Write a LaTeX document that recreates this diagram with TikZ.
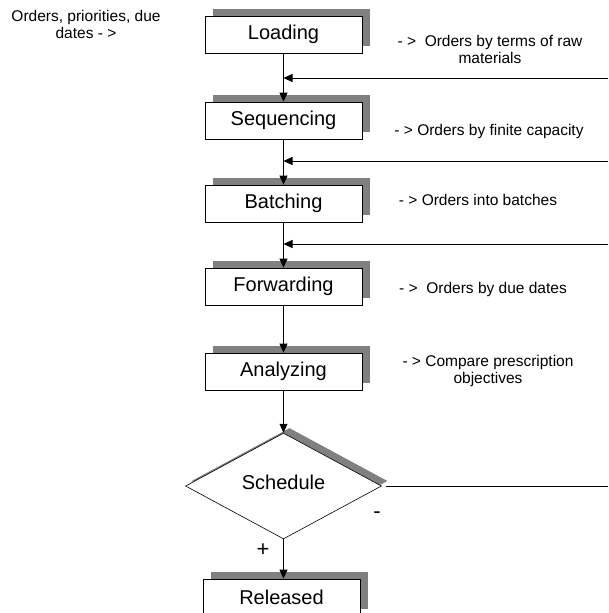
\documentclass[tikz,border=0pt]{standalone}
\usepackage{fontspec}
\setmainfont{Liberation Sans}
\usetikzlibrary{arrows.meta,shapes.geometric,shadows}

\definecolor{shadowgray}{RGB}{128,128,128}

\begin{document}
\begin{tikzpicture}[x=1pt,y=-1pt,
  boxshadow/.style={drop shadow={shadow xshift=8pt, shadow yshift=7pt,
      shadow scale=1, fill=shadowgray, opacity=1}},
  stage/.style={draw=black, line width=0.8pt, fill=white,
      minimum width=157pt, minimum height=37pt, inner sep=0pt,
      font=\fontsize{20}{24}\selectfont, boxshadow},
  decision/.style={diamond, draw=black, line width=0.6pt, fill=white,
      minimum width=196pt, minimum height=95pt, inner sep=0pt,
      font=\fontsize{20}{24}\selectfont,
      drop shadow={shadow xshift=6pt, shadow yshift=5pt,
      shadow scale=1, fill=shadowgray, opacity=1}},
  note/.style={font=\fontsize{15.5}{16.5}\selectfont, align=center, inner sep=0pt},
  sign/.style={font=\fontsize{22}{22}\selectfont, inner sep=0pt},
  flow/.style={line width=0.8pt, -{Triangle[width=8pt,length=9pt]}},
  plain/.style={line width=0.8pt},
]
% canvas
\useasboundingbox (0,0) rectangle (608,613);
\clip (0,0) rectangle (608,613);
\fill[white] (0,0) rectangle (608,613);

% process stages
\node[stage] (load)  at (283.5, 34.5)  {Loading};
\node[stage] (seq)   at (283.5, 120.5) {Sequencing};
\node[stage] (batch) at (283.5, 203.5) {Batching};
\node[stage] (fwd)   at (283.5, 286.5) {Forwarding};
\node[stage] (anal)  at (283.5, 371.5) {Analyzing};
\node[decision] (sched) at (283.5, 486) {\raisebox{8pt}{Schedule}};
\node[stage] (rel)   at (281.5, 597.5) {Released};

% main flow
\draw[flow] (load)  -- (seq);
\draw[flow] (seq)   -- (batch);
\draw[flow] (batch) -- (fwd);
\draw[flow] (fwd)   -- (anal);
\draw[flow] (anal.south) -- (anal.south |- sched.north);
\draw[flow] (sched.south) -- (sched.south |- rel.north);

% returns entering from the right
\coordinate (r1) at (608, 78);
\coordinate (r2) at (608, 161);
\coordinate (r3) at (608, 244);
\coordinate (r4) at (608, 486);
\draw[flow] (r1) -- (r1 -| load.south);
\draw[flow] (r2) -- (r2 -| seq.south);
\draw[flow] (r3) -- (r3 -| batch.south);
\draw[plain] ([xshift=4pt]sched.east) -- (r4);

% annotations
\node[note] (input) at (86, 24.5) {Orders, priorities, due\\dates - >};
\node[note] (t1) at (490, 49.5) {- >~ Orders by terms of raw\\materials};
\node[note] (t2) at (489, 131) {- > Orders by finite capacity};
\node[note] (t3) at (478, 200) {- > Orders into batches};
\node[note] (t4) at (483, 289) {- >~ Orders by due dates};
\node[note] (t5) at (488, 371) {- > Compare prescription\\objectives};
\node[sign] (minus) at (377, 515) {-};
\node[sign] (plus)  at (263, 550) {+};
\end{tikzpicture}
\end{document}
